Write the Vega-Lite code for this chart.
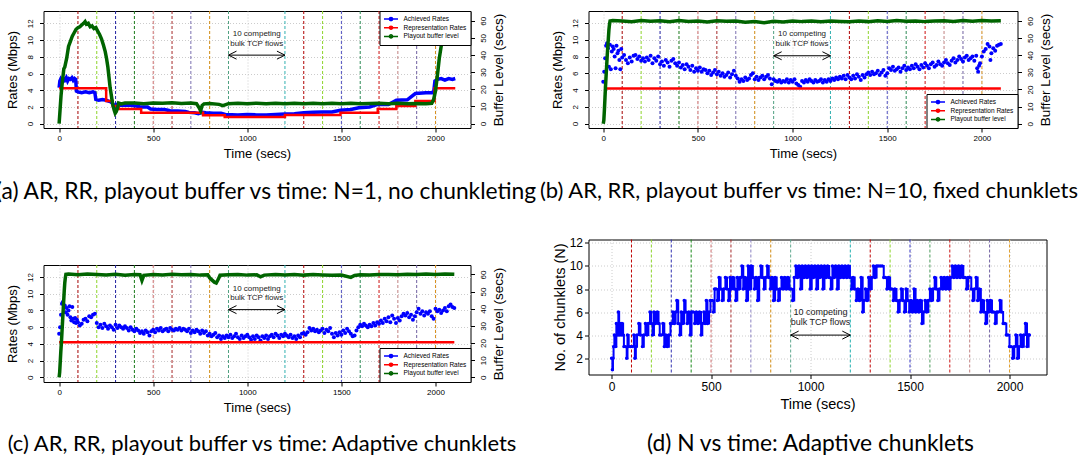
{
"$schema": "https://vega.github.io/schema/vega-lite/v6.json",
"padding": {"left": -6.5, "top": 10, "right": 0, "bottom": 0},
"background": "white",
"config": {
 "font": "Liberation Sans",
 "view": {"stroke": "black", "strokeWidth": 1},
 "axis": {"domain": false, "tickColor": "black", "tickSize": 4, "labelColor": "black", "titleColor": "black", "labelFont": "Liberation Sans", "titleFont": "Liberation Sans", "titleFontWeight": "normal", "gridColor": "#cccccc", "gridDash": [1, 2]},
 "title": {"font": "Lato", "fontSize": 22, "fontWeight": "normal", "color": "black", "orient": "bottom", "anchor": "middle", "frame": "group"},
 "legend": {"title": null, "offset": 0, "padding": 4, "strokeColor": "black", "fillColor": "white", "labelFontSize": 6.5, "labelFont": "Liberation Sans", "labelColor": "black", "symbolType": "M-2,0L2,0M-0.45,0A0.45,0.45,0,1,0,0.45,0A0.45,0.45,0,1,0,-0.45,0", "symbolSize": 49, "symbolStrokeWidth": 1.5, "rowPadding": 0.7, "clipHeight": 8, "labelOffset": 8, "symbolOffset": 3, "cornerRadius": 0}
},
"datasets": {
 "vlines": [{"t":100},{"t":200},{"t":300},{"t":400},{"t":500},{"t":600},{"t":700},{"t":800},{"t":900},{"t":1200},{"t":1300},{"t":1400},{"t":1500},{"t":1600},{"t":1700},{"t":1800},{"t":1900},{"t":2000}],
 "aAR": [{"t":0,"v":4.3},{"t":4,"v":5.1},{"t":8,"v":5.3},{"t":15,"v":5.0},{"t":22,"v":5.4},{"t":30,"v":5.2},{"t":38,"v":5.5},{"t":45,"v":5.1},{"t":52,"v":5.4},{"t":60,"v":5.3},{"t":68,"v":5.5},{"t":75,"v":5.2},{"t":82,"v":5.4},{"t":88,"v":5.3},{"t":92,"v":3.9},{"t":100,"v":3.8},{"t":120,"v":3.7},{"t":140,"v":3.8},{"t":160,"v":3.7},{"t":180,"v":3.8},{"t":190,"v":3.7},{"t":195,"v":2.9},{"t":210,"v":2.8},{"t":230,"v":2.9},{"t":250,"v":2.8},{"t":262,"v":2.7},{"t":275,"v":2.6},{"t":285,"v":2.4},{"t":292,"v":2.2},{"t":298,"v":2.1},{"t":305,"v":2.3},{"t":320,"v":2.2},{"t":350,"v":2.2},{"t":380,"v":2.2},{"t":410,"v":2.1},{"t":432,"v":2.0},{"t":470,"v":2.0},{"t":486,"v":1.75},{"t":520,"v":1.7},{"t":560,"v":1.7},{"t":590,"v":1.55},{"t":630,"v":1.5},{"t":670,"v":1.45},{"t":690,"v":1.35},{"t":720,"v":1.3},{"t":740,"v":1.2},{"t":760,"v":1.35},{"t":780,"v":1.3},{"t":820,"v":1.25},{"t":860,"v":1.25},{"t":883,"v":1.1},{"t":950,"v":1.05},{"t":1000,"v":1.1},{"t":1050,"v":1.05},{"t":1100,"v":1.05},{"t":1150,"v":1.1},{"t":1200,"v":1.15},{"t":1250,"v":1.2},{"t":1300,"v":1.3},{"t":1350,"v":1.35},{"t":1400,"v":1.4},{"t":1450,"v":1.4},{"t":1495,"v":1.6},{"t":1550,"v":1.7},{"t":1592,"v":1.9},{"t":1650,"v":2.0},{"t":1693,"v":2.3},{"t":1750,"v":2.3},{"t":1792,"v":2.8},{"t":1850,"v":2.85},{"t":1893,"v":3.6},{"t":1950,"v":3.7},{"t":1990,"v":3.7},{"t":1997,"v":5.1},{"t":2010,"v":5.3},{"t":2030,"v":5.4},{"t":2050,"v":5.2},{"t":2070,"v":5.4},{"t":2090,"v":5.3},{"t":2105,"v":5.4}],
 "aRR": [{"t":0,"v":4.25},{"t":250,"v":2.7},{"t":285,"v":2.1},{"t":316,"v":1.75},{"t":436,"v":1.3},{"t":765,"v":1.0},{"t":880,"v":0.8},{"t":1200,"v":1.05},{"t":1495,"v":1.3},{"t":1693,"v":1.75},{"t":1792,"v":2.1},{"t":1893,"v":2.7},{"t":1995,"v":4.25},{"t":2105,"v":4.25}],
 "aBL": [{"t":0,"v":0},{"t":5,"v":8},{"t":10,"v":16},{"t":15,"v":22},{"t":20,"v":27},{"t":25,"v":32},{"t":30,"v":33},{"t":40,"v":38},{"t":50,"v":45},{"t":60,"v":48},{"t":70,"v":51},{"t":80,"v":53},{"t":90,"v":55},{"t":100,"v":56},{"t":110,"v":56.5},{"t":120,"v":57.5},{"t":130,"v":58.5},{"t":138,"v":59.5},{"t":145,"v":58},{"t":155,"v":58.5},{"t":165,"v":56.5},{"t":175,"v":57},{"t":185,"v":55.5},{"t":195,"v":56},{"t":205,"v":54},{"t":215,"v":52},{"t":225,"v":49.5},{"t":235,"v":46},{"t":245,"v":42},{"t":252,"v":38},{"t":259,"v":33},{"t":265,"v":27},{"t":271,"v":21},{"t":278,"v":16},{"t":285,"v":11},{"t":292,"v":8},{"t":298,"v":6},{"t":304,"v":7},{"t":310,"v":9},{"t":316,"v":12},{"t":330,"v":11.5},{"t":350,"v":12},{"t":400,"v":12},{"t":450,"v":11.5},{"t":500,"v":12},{"t":550,"v":11.8},{"t":600,"v":12.1},{"t":650,"v":11.7},{"t":700,"v":12},{"t":730,"v":11.6},{"t":745,"v":9},{"t":752,"v":7.5},{"t":760,"v":10.5},{"t":770,"v":11.5},{"t":800,"v":11.7},{"t":850,"v":11.2},{"t":870,"v":10.5},{"t":900,"v":11.6},{"t":950,"v":11.8},{"t":1000,"v":11.5},{"t":1050,"v":11.9},{"t":1100,"v":11.6},{"t":1150,"v":11.8},{"t":1200,"v":11.5},{"t":1250,"v":11.9},{"t":1300,"v":11.6},{"t":1350,"v":11.8},{"t":1400,"v":11.5},{"t":1450,"v":11.9},{"t":1500,"v":11.6},{"t":1550,"v":11.8},{"t":1600,"v":11.5},{"t":1650,"v":11.7},{"t":1700,"v":11.9},{"t":1750,"v":11.6},{"t":1800,"v":11.8},{"t":1850,"v":11.5},{"t":1900,"v":11.7},{"t":1950,"v":11.6},{"t":1980,"v":11.8},{"t":1990,"v":14},{"t":2000,"v":19},{"t":2010,"v":28},{"t":2020,"v":38},{"t":2030,"v":45},{"t":2040,"v":52},{"t":2050,"v":60},{"t":2060,"v":68},{"t":2070,"v":75}],
 "bAR": [{"t":0,"v":5.0},{"t":5,"v":6.2},{"t":10,"v":7.8},{"t":15,"v":9.3},{"t":20,"v":9.6},{"t":25,"v":9.0},{"t":30,"v":6.8},{"t":35,"v":9.4},{"t":40,"v":6.5},{"t":45,"v":8.6},{"t":50,"v":9.2},{"t":55,"v":8.9},{"t":60,"v":8.0},{"t":65,"v":6.6},{"t":70,"v":9.3},{"t":75,"v":8.4},{"t":80,"v":8.7},{"t":85,"v":7.6},{"t":90,"v":6.5},{"t":95,"v":8.9},{"t":100,"v":7.9},{"t":110,"v":8.2},{"t":120,"v":7.6},{"t":130,"v":7.2},{"t":140,"v":7.9},{"t":150,"v":7.4},{"t":160,"v":8.1},{"t":170,"v":8.2},{"t":180,"v":7.7},{"t":190,"v":8.0},{"t":200,"v":7.5},{"t":210,"v":7.8},{"t":220,"v":7.4},{"t":230,"v":7.9},{"t":240,"v":7.6},{"t":250,"v":8.1},{"t":260,"v":7.2},{"t":270,"v":7.8},{"t":280,"v":7.5},{"t":290,"v":8.0},{"t":300,"v":7.1},{"t":310,"v":7.4},{"t":320,"v":6.9},{"t":330,"v":7.6},{"t":340,"v":7.3},{"t":350,"v":6.8},{"t":360,"v":7.5},{"t":370,"v":7.7},{"t":380,"v":7.2},{"t":390,"v":6.9},{"t":400,"v":7.3},{"t":410,"v":6.7},{"t":420,"v":7.0},{"t":430,"v":6.5},{"t":440,"v":7.1},{"t":450,"v":6.8},{"t":460,"v":6.4},{"t":470,"v":6.9},{"t":480,"v":6.2},{"t":490,"v":6.6},{"t":500,"v":6.3},{"t":510,"v":6.7},{"t":520,"v":6.2},{"t":530,"v":6.5},{"t":540,"v":6.4},{"t":550,"v":6.0},{"t":560,"v":6.3},{"t":570,"v":5.8},{"t":580,"v":6.1},{"t":590,"v":6.4},{"t":600,"v":5.9},{"t":610,"v":6.2},{"t":620,"v":5.7},{"t":630,"v":6.0},{"t":640,"v":5.6},{"t":650,"v":5.8},{"t":660,"v":6.1},{"t":670,"v":5.5},{"t":680,"v":5.9},{"t":690,"v":6.3},{"t":700,"v":5.7},{"t":710,"v":5.4},{"t":720,"v":5.0},{"t":730,"v":5.3},{"t":740,"v":5.1},{"t":750,"v":5.5},{"t":760,"v":5.2},{"t":770,"v":5.4},{"t":780,"v":5.8},{"t":790,"v":6.0},{"t":800,"v":5.3},{"t":810,"v":5.6},{"t":820,"v":5.2},{"t":830,"v":5.5},{"t":840,"v":5.7},{"t":850,"v":5.3},{"t":860,"v":5.6},{"t":870,"v":5.8},{"t":880,"v":5.4},{"t":890,"v":4.7},{"t":900,"v":5.3},{"t":910,"v":5.1},{"t":920,"v":5.0},{"t":930,"v":5.2},{"t":940,"v":4.9},{"t":950,"v":5.1},{"t":960,"v":5.0},{"t":970,"v":5.3},{"t":980,"v":4.9},{"t":990,"v":5.2},{"t":1000,"v":5.0},{"t":1010,"v":5.3},{"t":1020,"v":4.8},{"t":1030,"v":4.6},{"t":1040,"v":4.4},{"t":1050,"v":5.1},{"t":1060,"v":4.9},{"t":1070,"v":5.2},{"t":1080,"v":5.0},{"t":1090,"v":5.3},{"t":1100,"v":5.1},{"t":1110,"v":4.9},{"t":1120,"v":5.2},{"t":1130,"v":5.0},{"t":1140,"v":5.1},{"t":1150,"v":5.3},{"t":1160,"v":4.9},{"t":1170,"v":5.2},{"t":1180,"v":5.0},{"t":1190,"v":5.3},{"t":1200,"v":5.1},{"t":1210,"v":5.4},{"t":1220,"v":5.2},{"t":1230,"v":5.5},{"t":1240,"v":5.3},{"t":1250,"v":5.6},{"t":1260,"v":5.4},{"t":1270,"v":5.7},{"t":1280,"v":5.3},{"t":1290,"v":5.8},{"t":1300,"v":5.5},{"t":1310,"v":5.3},{"t":1320,"v":5.7},{"t":1330,"v":5.4},{"t":1340,"v":5.9},{"t":1350,"v":5.6},{"t":1360,"v":5.2},{"t":1370,"v":5.8},{"t":1380,"v":5.5},{"t":1390,"v":5.9},{"t":1400,"v":6.1},{"t":1410,"v":5.8},{"t":1420,"v":6.2},{"t":1430,"v":5.9},{"t":1440,"v":6.0},{"t":1450,"v":6.3},{"t":1460,"v":5.8},{"t":1470,"v":6.1},{"t":1480,"v":6.4},{"t":1490,"v":5.7},{"t":1500,"v":6.0},{"t":1510,"v":6.6},{"t":1520,"v":6.4},{"t":1530,"v":6.8},{"t":1540,"v":6.3},{"t":1550,"v":6.5},{"t":1560,"v":6.7},{"t":1570,"v":6.2},{"t":1580,"v":6.6},{"t":1590,"v":6.9},{"t":1600,"v":6.4},{"t":1610,"v":6.7},{"t":1620,"v":6.5},{"t":1630,"v":6.9},{"t":1640,"v":6.6},{"t":1650,"v":7.1},{"t":1660,"v":6.8},{"t":1670,"v":6.5},{"t":1680,"v":7.0},{"t":1690,"v":6.7},{"t":1700,"v":7.2},{"t":1710,"v":6.9},{"t":1720,"v":6.6},{"t":1730,"v":7.1},{"t":1740,"v":7.3},{"t":1750,"v":6.8},{"t":1760,"v":7.0},{"t":1770,"v":7.4},{"t":1780,"v":7.1},{"t":1790,"v":6.9},{"t":1800,"v":7.3},{"t":1810,"v":7.6},{"t":1820,"v":7.2},{"t":1830,"v":7.0},{"t":1840,"v":7.5},{"t":1850,"v":7.8},{"t":1860,"v":7.3},{"t":1870,"v":7.6},{"t":1880,"v":8.0},{"t":1890,"v":7.7},{"t":1900,"v":7.4},{"t":1910,"v":7.9},{"t":1920,"v":8.1},{"t":1930,"v":7.6},{"t":1940,"v":7.8},{"t":1950,"v":8.0},{"t":1960,"v":7.5},{"t":1970,"v":8.1},{"t":1975,"v":6.6},{"t":1980,"v":6.2},{"t":1985,"v":6.9},{"t":1990,"v":7.2},{"t":2000,"v":8.0},{"t":2010,"v":8.6},{"t":2020,"v":8.9},{"t":2030,"v":9.5},{"t":2040,"v":9.2},{"t":2045,"v":7.6},{"t":2050,"v":8.4},{"t":2060,"v":9.0},{"t":2070,"v":8.7},{"t":2080,"v":9.3},{"t":2090,"v":9.4},{"t":2100,"v":9.5}],
 "bRR": [{"t":5,"v":4.2},{"t":2100,"v":4.2}],
 "bBL": [{"t":0,"v":0},{"t":3,"v":2},{"t":6,"v":8},{"t":9,"v":15},{"t":12,"v":22},{"t":15,"v":28},{"t":18,"v":34},{"t":21,"v":40},{"t":24,"v":45},{"t":27,"v":50},{"t":30,"v":55},{"t":33,"v":58},{"t":36,"v":60},{"t":50,"v":60.3},{"t":100,"v":60.0},{"t":150,"v":59.6},{"t":200,"v":60.2},{"t":250,"v":59.8},{"t":300,"v":60.1},{"t":350,"v":59.5},{"t":400,"v":60.2},{"t":450,"v":59.7},{"t":500,"v":60.0},{"t":550,"v":59.4},{"t":600,"v":60.1},{"t":650,"v":59.8},{"t":700,"v":59.9},{"t":750,"v":59.3},{"t":800,"v":59.6},{"t":850,"v":58.9},{"t":900,"v":59.8},{"t":950,"v":59.4},{"t":1000,"v":60.0},{"t":1050,"v":59.6},{"t":1100,"v":59.9},{"t":1150,"v":59.5},{"t":1200,"v":60.0},{"t":1250,"v":59.7},{"t":1300,"v":59.5},{"t":1350,"v":59.9},{"t":1400,"v":59.6},{"t":1450,"v":60.1},{"t":1500,"v":59.7},{"t":1550,"v":60.2},{"t":1600,"v":59.8},{"t":1650,"v":60.0},{"t":1700,"v":59.6},{"t":1750,"v":59.9},{"t":1800,"v":60.1},{"t":1850,"v":59.7},{"t":1900,"v":60.3},{"t":1950,"v":59.8},{"t":2000,"v":60.2},{"t":2050,"v":59.9},{"t":2100,"v":60.1}],
 "cAR": [{"t":0,"v":5.2},{"t":5,"v":6.0},{"t":10,"v":7.5},{"t":15,"v":8.8},{"t":20,"v":9.0},{"t":25,"v":8.4},{"t":30,"v":8.6},{"t":35,"v":7.8},{"t":40,"v":8.3},{"t":45,"v":7.5},{"t":50,"v":8.0},{"t":55,"v":8.5},{"t":60,"v":7.2},{"t":65,"v":6.8},{"t":70,"v":8.4},{"t":75,"v":7.0},{"t":80,"v":6.6},{"t":85,"v":7.1},{"t":90,"v":6.5},{"t":95,"v":6.9},{"t":100,"v":6.6},{"t":110,"v":6.2},{"t":120,"v":6.4},{"t":130,"v":6.9},{"t":140,"v":7.0},{"t":150,"v":6.7},{"t":160,"v":7.3},{"t":170,"v":7.2},{"t":180,"v":7.5},{"t":190,"v":7.6},{"t":200,"v":6.5},{"t":210,"v":6.0},{"t":220,"v":6.3},{"t":230,"v":5.9},{"t":240,"v":6.4},{"t":250,"v":6.1},{"t":260,"v":5.8},{"t":270,"v":6.2},{"t":280,"v":6.0},{"t":290,"v":5.7},{"t":300,"v":6.3},{"t":310,"v":5.9},{"t":320,"v":6.2},{"t":330,"v":6.0},{"t":340,"v":5.8},{"t":350,"v":6.1},{"t":360,"v":5.9},{"t":370,"v":5.6},{"t":380,"v":6.0},{"t":390,"v":5.7},{"t":400,"v":5.5},{"t":410,"v":5.8},{"t":420,"v":5.6},{"t":430,"v":5.3},{"t":440,"v":5.5},{"t":450,"v":5.2},{"t":460,"v":5.6},{"t":470,"v":5.4},{"t":480,"v":5.0},{"t":490,"v":5.5},{"t":500,"v":5.7},{"t":510,"v":5.4},{"t":520,"v":5.8},{"t":530,"v":5.6},{"t":540,"v":5.9},{"t":550,"v":5.5},{"t":560,"v":5.7},{"t":570,"v":5.8},{"t":580,"v":5.5},{"t":590,"v":5.9},{"t":600,"v":5.7},{"t":610,"v":5.6},{"t":620,"v":5.8},{"t":630,"v":5.7},{"t":640,"v":5.9},{"t":650,"v":5.6},{"t":660,"v":5.8},{"t":670,"v":5.7},{"t":680,"v":5.5},{"t":690,"v":5.8},{"t":700,"v":5.3},{"t":710,"v":5.6},{"t":720,"v":5.4},{"t":730,"v":5.7},{"t":740,"v":5.5},{"t":750,"v":5.2},{"t":760,"v":5.6},{"t":770,"v":5.3},{"t":780,"v":5.5},{"t":790,"v":5.0},{"t":800,"v":5.2},{"t":810,"v":4.9},{"t":820,"v":5.1},{"t":830,"v":5.3},{"t":840,"v":4.8},{"t":850,"v":5.0},{"t":860,"v":4.6},{"t":870,"v":4.9},{"t":880,"v":4.7},{"t":890,"v":5.0},{"t":900,"v":4.8},{"t":910,"v":5.1},{"t":920,"v":4.7},{"t":930,"v":4.9},{"t":940,"v":5.2},{"t":950,"v":4.8},{"t":960,"v":4.6},{"t":970,"v":5.0},{"t":980,"v":4.7},{"t":990,"v":4.9},{"t":1000,"v":5.1},{"t":1010,"v":4.8},{"t":1020,"v":4.5},{"t":1030,"v":4.9},{"t":1040,"v":4.6},{"t":1050,"v":5.0},{"t":1060,"v":4.8},{"t":1070,"v":4.4},{"t":1080,"v":4.9},{"t":1090,"v":4.7},{"t":1100,"v":5.0},{"t":1110,"v":4.6},{"t":1120,"v":4.9},{"t":1130,"v":5.1},{"t":1140,"v":4.8},{"t":1150,"v":5.2},{"t":1160,"v":5.0},{"t":1170,"v":4.7},{"t":1180,"v":5.1},{"t":1190,"v":4.9},{"t":1200,"v":5.2},{"t":1210,"v":5.0},{"t":1220,"v":4.8},{"t":1230,"v":5.1},{"t":1240,"v":4.7},{"t":1250,"v":4.9},{"t":1260,"v":4.6},{"t":1270,"v":5.0},{"t":1280,"v":4.8},{"t":1290,"v":5.2},{"t":1300,"v":5.3},{"t":1310,"v":5.1},{"t":1320,"v":5.4},{"t":1330,"v":5.9},{"t":1340,"v":5.6},{"t":1350,"v":5.8},{"t":1360,"v":5.5},{"t":1370,"v":5.7},{"t":1380,"v":5.4},{"t":1390,"v":5.6},{"t":1400,"v":5.8},{"t":1410,"v":5.3},{"t":1420,"v":5.7},{"t":1430,"v":5.5},{"t":1440,"v":5.9},{"t":1450,"v":5.2},{"t":1460,"v":4.8},{"t":1470,"v":5.3},{"t":1480,"v":5.0},{"t":1490,"v":5.4},{"t":1500,"v":5.1},{"t":1510,"v":5.6},{"t":1520,"v":5.3},{"t":1530,"v":5.8},{"t":1540,"v":5.5},{"t":1550,"v":5.2},{"t":1560,"v":4.9},{"t":1570,"v":5.0},{"t":1580,"v":5.6},{"t":1590,"v":6.0},{"t":1600,"v":6.3},{"t":1610,"v":6.1},{"t":1620,"v":6.4},{"t":1630,"v":6.2},{"t":1640,"v":6.0},{"t":1650,"v":6.3},{"t":1660,"v":6.1},{"t":1670,"v":6.5},{"t":1680,"v":6.2},{"t":1690,"v":6.6},{"t":1700,"v":6.4},{"t":1710,"v":6.8},{"t":1720,"v":6.5},{"t":1730,"v":7.0},{"t":1740,"v":6.7},{"t":1750,"v":7.2},{"t":1760,"v":6.6},{"t":1770,"v":7.4},{"t":1780,"v":7.0},{"t":1790,"v":6.5},{"t":1800,"v":7.1},{"t":1810,"v":6.8},{"t":1820,"v":7.3},{"t":1830,"v":7.6},{"t":1840,"v":7.4},{"t":1850,"v":7.7},{"t":1860,"v":7.2},{"t":1870,"v":7.5},{"t":1880,"v":6.9},{"t":1890,"v":7.3},{"t":1900,"v":7.8},{"t":1910,"v":8.2},{"t":1920,"v":7.6},{"t":1930,"v":7.9},{"t":1940,"v":7.4},{"t":1950,"v":7.8},{"t":1960,"v":7.6},{"t":1970,"v":7.9},{"t":1980,"v":7.3},{"t":1990,"v":7.0},{"t":2000,"v":8.2},{"t":2010,"v":7.9},{"t":2020,"v":8.1},{"t":2030,"v":7.7},{"t":2040,"v":8.0},{"t":2050,"v":8.3},{"t":2060,"v":7.9},{"t":2070,"v":8.5},{"t":2080,"v":8.7},{"t":2090,"v":8.4},{"t":2100,"v":8.3}],
 "cRR": [{"t":0,"v":4.2},{"t":2100,"v":4.2}],
 "cBL": [{"t":0,"v":0},{"t":3,"v":3},{"t":6,"v":9},{"t":9,"v":15},{"t":12,"v":20},{"t":15,"v":26},{"t":18,"v":32},{"t":21,"v":38},{"t":24,"v":44},{"t":27,"v":50},{"t":30,"v":55},{"t":33,"v":58},{"t":36,"v":60},{"t":50,"v":60.2},{"t":100,"v":59.8},{"t":150,"v":60.3},{"t":200,"v":60.0},{"t":250,"v":59.7},{"t":300,"v":60.1},{"t":350,"v":59.6},{"t":400,"v":60.0},{"t":430,"v":59.8},{"t":440,"v":56.5},{"t":450,"v":59.5},{"t":500,"v":60.0},{"t":550,"v":59.7},{"t":600,"v":60.1},{"t":650,"v":59.8},{"t":700,"v":60.0},{"t":750,"v":59.6},{"t":790,"v":59.8},{"t":800,"v":58},{"t":810,"v":57},{"t":825,"v":55.5},{"t":835,"v":55},{"t":845,"v":57},{"t":855,"v":59.5},{"t":900,"v":59.8},{"t":950,"v":60.0},{"t":1000,"v":59.6},{"t":1050,"v":59.8},{"t":1070,"v":58.6},{"t":1090,"v":59.6},{"t":1150,"v":59.9},{"t":1200,"v":59.7},{"t":1250,"v":60.0},{"t":1300,"v":59.6},{"t":1350,"v":59.9},{"t":1400,"v":59.7},{"t":1450,"v":59.5},{"t":1500,"v":59.6},{"t":1550,"v":58.3},{"t":1570,"v":59.4},{"t":1600,"v":59.8},{"t":1650,"v":59.6},{"t":1700,"v":59.9},{"t":1750,"v":60.0},{"t":1800,"v":59.8},{"t":1850,"v":60.1},{"t":1900,"v":59.9},{"t":1950,"v":60.2},{"t":2000,"v":60.0},{"t":2050,"v":60.3},{"t":2100,"v":60.1}],
 "dN": [{"t":0,"v":2},{"t":4,"v":1},{"t":7,"v":2},{"t":10,"v":3},{"t":14,"v":4},{"t":20,"v":3},{"t":24,"v":5},{"t":30,"v":4},{"t":34,"v":6},{"t":38,"v":4},{"t":42,"v":5},{"t":48,"v":4},{"t":52,"v":5},{"t":58,"v":4},{"t":62,"v":3},{"t":70,"v":3},{"t":76,"v":2},{"t":80,"v":4},{"t":86,"v":3},{"t":95,"v":3},{"t":104,"v":3},{"t":112,"v":4},{"t":117,"v":2},{"t":122,"v":3},{"t":128,"v":4},{"t":137,"v":5},{"t":145,"v":4},{"t":155,"v":3},{"t":162,"v":4},{"t":170,"v":5},{"t":178,"v":4},{"t":185,"v":5},{"t":193,"v":6},{"t":200,"v":5},{"t":206,"v":4},{"t":213,"v":6},{"t":220,"v":5},{"t":230,"v":6},{"t":236,"v":5},{"t":242,"v":4},{"t":250,"v":4},{"t":258,"v":5},{"t":265,"v":3},{"t":272,"v":4},{"t":280,"v":3},{"t":288,"v":4},{"t":296,"v":5},{"t":302,"v":5},{"t":308,"v":6},{"t":315,"v":5},{"t":322,"v":6},{"t":328,"v":7},{"t":335,"v":5},{"t":343,"v":4},{"t":350,"v":6},{"t":358,"v":5},{"t":365,"v":7},{"t":372,"v":6},{"t":380,"v":5},{"t":388,"v":6},{"t":395,"v":4},{"t":402,"v":6},{"t":410,"v":6},{"t":418,"v":5},{"t":426,"v":6},{"t":434,"v":5},{"t":442,"v":6},{"t":450,"v":4},{"t":456,"v":5},{"t":464,"v":6},{"t":470,"v":5},{"t":476,"v":7},{"t":482,"v":5},{"t":490,"v":6},{"t":497,"v":7},{"t":505,"v":7},{"t":512,"v":6},{"t":518,"v":8},{"t":525,"v":8},{"t":532,"v":7},{"t":540,"v":9},{"t":548,"v":8},{"t":556,"v":7},{"t":564,"v":8},{"t":572,"v":9},{"t":580,"v":8},{"t":588,"v":7},{"t":595,"v":9},{"t":602,"v":8},{"t":610,"v":9},{"t":618,"v":8},{"t":624,"v":7},{"t":632,"v":9},{"t":640,"v":8},{"t":648,"v":9},{"t":655,"v":10},{"t":662,"v":8},{"t":670,"v":9},{"t":678,"v":7},{"t":686,"v":10},{"t":694,"v":8},{"t":702,"v":10},{"t":710,"v":9},{"t":718,"v":8},{"t":726,"v":9},{"t":734,"v":7},{"t":742,"v":9},{"t":750,"v":10},{"t":758,"v":9},{"t":766,"v":8},{"t":774,"v":9},{"t":782,"v":10},{"t":790,"v":9},{"t":798,"v":8},{"t":806,"v":9},{"t":814,"v":7},{"t":822,"v":9},{"t":830,"v":8},{"t":838,"v":7},{"t":846,"v":8},{"t":854,"v":9},{"t":862,"v":8},{"t":870,"v":9},{"t":878,"v":8},{"t":886,"v":9},{"t":894,"v":8},{"t":902,"v":8},{"t":910,"v":7},{"t":918,"v":9},{"t":926,"v":10},{"t":934,"v":9},{"t":942,"v":10},{"t":950,"v":8},{"t":958,"v":10},{"t":966,"v":9},{"t":974,"v":10},{"t":982,"v":9},{"t":990,"v":10},{"t":998,"v":8},{"t":1006,"v":10},{"t":1014,"v":9},{"t":1022,"v":10},{"t":1030,"v":8},{"t":1038,"v":10},{"t":1046,"v":9},{"t":1054,"v":10},{"t":1062,"v":8},{"t":1070,"v":10},{"t":1078,"v":9},{"t":1086,"v":10},{"t":1094,"v":9},{"t":1102,"v":8},{"t":1110,"v":10},{"t":1118,"v":9},{"t":1126,"v":10},{"t":1134,"v":8},{"t":1142,"v":10},{"t":1150,"v":9},{"t":1158,"v":10},{"t":1166,"v":9},{"t":1174,"v":10},{"t":1182,"v":9},{"t":1190,"v":10},{"t":1198,"v":9},{"t":1206,"v":8},{"t":1214,"v":9},{"t":1222,"v":8},{"t":1230,"v":7},{"t":1238,"v":8},{"t":1246,"v":7},{"t":1254,"v":9},{"t":1262,"v":6},{"t":1268,"v":7},{"t":1276,"v":8},{"t":1284,"v":7},{"t":1292,"v":9},{"t":1300,"v":8},{"t":1308,"v":9},{"t":1316,"v":10},{"t":1324,"v":9},{"t":1332,"v":10},{"t":1340,"v":10},{"t":1350,"v":10},{"t":1360,"v":10},{"t":1368,"v":9},{"t":1376,"v":9},{"t":1384,"v":8},{"t":1392,"v":9},{"t":1400,"v":8},{"t":1408,"v":8},{"t":1416,"v":7},{"t":1424,"v":8},{"t":1432,"v":7},{"t":1440,"v":6},{"t":1448,"v":7},{"t":1456,"v":8},{"t":1464,"v":7},{"t":1472,"v":6},{"t":1480,"v":8},{"t":1488,"v":7},{"t":1496,"v":6},{"t":1504,"v":7},{"t":1512,"v":6},{"t":1520,"v":8},{"t":1528,"v":6},{"t":1536,"v":7},{"t":1544,"v":6},{"t":1552,"v":7},{"t":1560,"v":5},{"t":1568,"v":6},{"t":1576,"v":7},{"t":1584,"v":6},{"t":1592,"v":7},{"t":1600,"v":8},{"t":1608,"v":7},{"t":1616,"v":8},{"t":1624,"v":9},{"t":1632,"v":8},{"t":1640,"v":7},{"t":1648,"v":8},{"t":1656,"v":9},{"t":1664,"v":8},{"t":1672,"v":9},{"t":1680,"v":8},{"t":1688,"v":9},{"t":1696,"v":8},{"t":1704,"v":9},{"t":1712,"v":10},{"t":1720,"v":9},{"t":1728,"v":10},{"t":1736,"v":9},{"t":1744,"v":10},{"t":1752,"v":9},{"t":1760,"v":10},{"t":1768,"v":9},{"t":1776,"v":9},{"t":1784,"v":8},{"t":1792,"v":9},{"t":1800,"v":9},{"t":1808,"v":8},{"t":1816,"v":7},{"t":1824,"v":8},{"t":1832,"v":9},{"t":1840,"v":7},{"t":1848,"v":8},{"t":1856,"v":6},{"t":1864,"v":7},{"t":1872,"v":6},{"t":1880,"v":5},{"t":1888,"v":7},{"t":1896,"v":6},{"t":1904,"v":7},{"t":1912,"v":6},{"t":1920,"v":6},{"t":1928,"v":5},{"t":1936,"v":6},{"t":1944,"v":6},{"t":1952,"v":7},{"t":1960,"v":6},{"t":1968,"v":5},{"t":1976,"v":5},{"t":1984,"v":4},{"t":1992,"v":4},{"t":2000,"v":3},{"t":2008,"v":3},{"t":2016,"v":2},{"t":2024,"v":3},{"t":2032,"v":4},{"t":2040,"v":2},{"t":2048,"v":3},{"t":2056,"v":4},{"t":2064,"v":3},{"t":2072,"v":4},{"t":2080,"v":5},{"t":2088,"v":3},{"t":2096,"v":4},{"t":2100,"v":4}]
},
"hconcat": [
 {"vconcat": [
  {"width": 427, "height": 117,
   "title": {"text": "(a) AR, RR, playout buffer vs time: N=1, no chunkleting", "fontSize": 22.8, "dx": 9, "offset": 21},
   "encoding": {"x": {"field": "t", "type": "quantitative", "scale": {"domain": [-83, 2186], "nice": false, "zero": false}, "axis": {"values": [0,500,1000,1500,2000], "format": "d", "title": "Time (secs)", "labelFontSize": 8, "titleFontSize": 13, "grid": true, "labelPadding": 2, "titlePadding": 5}}},
   "layer": [
    {"data": {"name": "vlines"}, "mark": {"type": "rule", "strokeDash": [3, 2], "strokeWidth": 1}, "encoding": {"stroke": {"field": "t", "type": "ordinal", "scale": {"domain": [100,200,300,400,500,600,700,800,900,1200,1300,1400,1500,1600,1700,1800,1900,2000], "range": ["#a50000","#8ed42b","#2020a0","#1a7a1a","#cd6c6c","#a52a2a","#7b6fb0","#d08a10","#4fa080","#30b0b0","#b00000","#8ed42b","#5050c0","#2e8b57","#cc1010","#c08080","#7060a0","#d89020"]}, "legend": null}}},
    {"encoding": {"y": {"field": "v", "type": "quantitative", "scale": {"domain": [-0.52, 13.48], "nice": false, "zero": false}, "axis": {"values": [0,2,4,6,8,10,12], "title": "Rates (Mbps)", "labelAngle": -90, "labelFontSize": 8, "titleFontSize": 13, "grid": true, "labelPadding": 5, "titlePadding": 7}}},
     "layer": [
      {"data": {"name": "aAR"}, "mark": {"type": "line", "color": "#0000ff", "strokeWidth": 3.5}},
      {"data": {"name": "aRR"}, "mark": {"type": "line", "interpolate": "step-after", "strokeWidth": 2.5}, "encoding": {"color": {"datum": "Representation Rates", "scale": {"domain": ["Achieved Rates", "Representation Rates", "Playout buffer level"], "range": ["#0000ff", "#ff0000", "#006400"]}, "legend": {"orient": "top-right", "labelFontSize": 6.5, "labelFont": "Liberation Sans"}}}},
      {"data": {"values": [{"t": 1050, "v": 10.7, "s": "10 competing"}, {"t": 1050, "v": 9.5, "s": "bulk TCP flows"}]}, "mark": {"type": "text", "fontSize": 8, "color": "#222222"}, "encoding": {"text": {"field": "s"}}},
      {"data": {"values": [{"t": 900, "t2": 1200, "v": 8.2}]}, "mark": {"type": "rule", "color": "black", "strokeWidth": 1}, "encoding": {"x2": {"field": "t2"}}},
      {"data": {"values": [{"t": 900, "v": 8.2}]}, "mark": {"type": "point", "shape": "M2,-1L0,0L2,1", "size": 64, "color": "black", "filled": false, "strokeWidth": 1, "opacity": 1}},
      {"data": {"values": [{"t": 1200, "v": 8.2}]}, "mark": {"type": "point", "shape": "M-2,-1L0,0L-2,1", "size": 64, "color": "black", "filled": false, "strokeWidth": 1, "opacity": 1}}
     ]},
    {"data": {"name": "aBL"}, "mark": {"type": "line", "color": "#006400", "strokeWidth": 3.5, "clip": true}, "encoding": {"y": {"field": "v", "type": "quantitative", "scale": {"domain": [-2.6, 65.7], "nice": false, "zero": false}, "axis": {"orient": "right", "values": [0,10,20,30,40,50,60], "title": "Buffer Level (secs)", "labelAngle": -90, "labelFontSize": 8, "titleFontSize": 13.5, "grid": false, "labelPadding": 5, "titlePadding": 4, "titleAngle": 270, "titleBaseline": "top"}}}}
   ],
   "resolve": {"scale": {"y": "independent"}}
  },
  {"width": 427, "height": 117,
   "title": {"text": "(c) AR, RR, playout buffer vs time: Adaptive chunklets", "dx": 5, "offset": 20},
   "encoding": {"x": {"field": "t", "type": "quantitative", "scale": {"domain": [-83, 2186], "nice": false, "zero": false}, "axis": {"values": [0,500,1000,1500,2000], "format": "d", "title": "Time (secs)", "labelFontSize": 8, "titleFontSize": 13, "grid": true, "labelPadding": 2, "titlePadding": 5}}},
   "layer": [
    {"data": {"name": "vlines"}, "mark": {"type": "rule", "strokeDash": [3, 2], "strokeWidth": 1}, "encoding": {"stroke": {"field": "t", "type": "ordinal", "scale": {"domain": [100,200,300,400,500,600,700,800,900,1200,1300,1400,1500,1600,1700,1800,1900,2000], "range": ["#a50000","#8ed42b","#2020a0","#1a7a1a","#cd6c6c","#a52a2a","#7b6fb0","#d08a10","#4fa080","#30b0b0","#b00000","#8ed42b","#5050c0","#2e8b57","#cc1010","#c08080","#7060a0","#d89020"]}, "legend": null}}},
    {"encoding": {"y": {"field": "v", "type": "quantitative", "scale": {"domain": [-0.56, 13.44], "nice": false, "zero": false}, "axis": {"values": [0,2,4,6,8,10,12], "title": "Rates (Mbps)", "labelAngle": -90, "labelFontSize": 8, "titleFontSize": 13, "grid": true, "labelPadding": 5, "titlePadding": 7}}},
     "layer": [
      {"data": {"name": "cAR"}, "mark": {"type": "point", "filled": true, "size": 16, "color": "#0000ff", "opacity": 1}},
      {"data": {"name": "cRR"}, "mark": {"type": "line", "strokeWidth": 2.5}, "encoding": {"color": {"datum": "Representation Rates", "scale": {"domain": ["Achieved Rates", "Representation Rates", "Playout buffer level"], "range": ["#0000ff", "#ff0000", "#006400"]}, "legend": {"orient": "bottom-right", "labelFontSize": 6.5, "labelFont": "Liberation Sans"}}}},
      {"data": {"values": [{"t": 1050, "v": 10.6, "s": "10 competing"}, {"t": 1050, "v": 9.45, "s": "bulk TCP flows"}]}, "mark": {"type": "text", "fontSize": 8, "color": "#222222"}, "encoding": {"text": {"field": "s"}}},
      {"data": {"values": [{"t": 900, "t2": 1200, "v": 8.1}]}, "mark": {"type": "rule", "color": "black", "strokeWidth": 1}, "encoding": {"x2": {"field": "t2"}}},
      {"data": {"values": [{"t": 900, "v": 8.1}]}, "mark": {"type": "point", "shape": "M2,-1L0,0L2,1", "size": 64, "color": "black", "filled": false, "strokeWidth": 1, "opacity": 1}},
      {"data": {"values": [{"t": 1200, "v": 8.1}]}, "mark": {"type": "point", "shape": "M-2,-1L0,0L-2,1", "size": 64, "color": "black", "filled": false, "strokeWidth": 1, "opacity": 1}}
     ]},
    {"data": {"name": "cBL"}, "mark": {"type": "line", "color": "#006400", "strokeWidth": 3.5, "clip": true}, "encoding": {"y": {"field": "v", "type": "quantitative", "scale": {"domain": [-2.7, 65.5], "nice": false, "zero": false}, "axis": {"orient": "right", "values": [0,10,20,30,40,50,60], "title": "Buffer Level (secs)", "labelAngle": -90, "labelFontSize": 8, "titleFontSize": 13.5, "grid": false, "labelPadding": 5, "titlePadding": 4, "titleAngle": 270, "titleBaseline": "top"}}}}
   ],
   "resolve": {"scale": {"y": "independent"}}
  }
 ], "spacing": 137, "bounds": "flush", "resolve": {"scale": {"color": "independent", "stroke": "independent"}}},
 {"vconcat": [
  {"width": 429, "height": 117,
   "title": {"text": "(b) AR, RR, playout buffer vs time: N=10, fixed chunklets", "dx": 6, "offset": 21},
   "encoding": {"x": {"field": "t", "type": "quantitative", "scale": {"domain": [-78, 2188], "nice": false, "zero": false}, "axis": {"values": [0,500,1000,1500,2000], "format": "d", "title": "Time (secs)", "labelFontSize": 8, "titleFontSize": 13, "grid": true, "labelPadding": 2, "titlePadding": 5}}},
   "layer": [
    {"data": {"name": "vlines"}, "mark": {"type": "rule", "strokeDash": [3, 2], "strokeWidth": 1}, "encoding": {"stroke": {"field": "t", "type": "ordinal", "scale": {"domain": [100,200,300,400,500,600,700,800,900,1200,1300,1400,1500,1600,1700,1800,1900,2000], "range": ["#a50000","#8ed42b","#2020a0","#1a7a1a","#cd6c6c","#a52a2a","#7b6fb0","#d08a10","#4fa080","#30b0b0","#b00000","#8ed42b","#5050c0","#2e8b57","#cc1010","#c08080","#7060a0","#d89020"]}, "legend": null}}},
    {"encoding": {"y": {"field": "v", "type": "quantitative", "scale": {"domain": [-0.52, 13.44], "nice": false, "zero": false}, "axis": {"values": [0,2,4,6,8,10,12], "title": "Rates (Mbps)", "labelAngle": -90, "labelFontSize": 8, "titleFontSize": 13, "grid": true, "labelPadding": 5, "titlePadding": 7}}},
     "layer": [
      {"data": {"name": "bAR"}, "mark": {"type": "point", "filled": true, "size": 16, "color": "#0000ff", "opacity": 1}},
      {"data": {"name": "bRR"}, "mark": {"type": "line", "strokeWidth": 2.5}, "encoding": {"color": {"datum": "Representation Rates", "scale": {"domain": ["Achieved Rates", "Representation Rates", "Playout buffer level"], "range": ["#0000ff", "#ff0000", "#006400"]}, "legend": {"orient": "bottom-right", "labelFontSize": 6.5, "labelFont": "Liberation Sans"}}}},
      {"data": {"values": [{"t": 1050, "v": 10.65, "s": "10 competing"}, {"t": 1050, "v": 9.45, "s": "bulk TCP flows"}]}, "mark": {"type": "text", "fontSize": 8, "color": "#222222"}, "encoding": {"text": {"field": "s"}}},
      {"data": {"values": [{"t": 900, "t2": 1200, "v": 8.1}]}, "mark": {"type": "rule", "color": "black", "strokeWidth": 1}, "encoding": {"x2": {"field": "t2"}}},
      {"data": {"values": [{"t": 900, "v": 8.1}]}, "mark": {"type": "point", "shape": "M2,-1L0,0L2,1", "size": 64, "color": "black", "filled": false, "strokeWidth": 1, "opacity": 1}},
      {"data": {"values": [{"t": 1200, "v": 8.1}]}, "mark": {"type": "point", "shape": "M-2,-1L0,0L-2,1", "size": 64, "color": "black", "filled": false, "strokeWidth": 1, "opacity": 1}}
     ]},
    {"data": {"name": "bBL"}, "mark": {"type": "line", "color": "#006400", "strokeWidth": 3.5, "clip": true}, "encoding": {"y": {"field": "v", "type": "quantitative", "scale": {"domain": [-2.5, 65.8], "nice": false, "zero": false}, "axis": {"orient": "right", "values": [0,10,20,30,40,50,60], "title": "Buffer Level (secs)", "labelAngle": -90, "labelFontSize": 8, "titleFontSize": 13.5, "grid": false, "labelPadding": 5, "titlePadding": 4, "titleAngle": 270, "titleBaseline": "top"}}}}
   ],
   "resolve": {"scale": {"y": "independent"}}
  },
  {"width": 458, "height": 135,
   "title": {"text": "(d) N vs time: Adaptive chunklets", "fontSize": 22.8, "dx": -7, "offset": 22},
   "encoding": {"x": {"field": "t", "type": "quantitative", "scale": {"domain": [-116, 2186], "nice": false, "zero": false}, "axis": {"values": [0,500,1000,1500,2000], "format": "d", "title": "Time (secs)", "labelFontSize": 12, "titleFontSize": 14.5, "grid": true, "labelPadding": 3, "titlePadding": 5}}},
   "layer": [
    {"data": {"name": "vlines"}, "mark": {"type": "rule", "strokeDash": [3, 2], "strokeWidth": 1}, "encoding": {"stroke": {"field": "t", "type": "ordinal", "scale": {"domain": [100,200,300,400,500,600,700,800,900,1200,1300,1400,1500,1600,1700,1800,1900,2000], "range": ["#c00000","#8ed42b","#3030b0","#1a8a1a","#cd6c6c","#a52a2a","#8a80c0","#d08a10","#60a890","#20b0b0","#c00000","#8ed42b","#3030c0","#4a9a5a","#cc1010","#c08080","#7060a0","#e0a030"]}, "legend": null}}},
    {"encoding": {"y": {"field": "v", "type": "quantitative", "scale": {"domain": [0.58, 12.3], "nice": false, "zero": false}, "axis": {"values": [2,4,6,8,10,12], "title": "No. of chunklets (N)", "labelFontSize": 12, "titleFontSize": 14.5, "grid": true, "labelPadding": 2, "titlePadding": 2}}},
     "layer": [
      {"data": {"name": "dN"}, "mark": {"type": "line", "interpolate": "step-after", "color": "#0000ff", "strokeWidth": 2}},
      {"data": {"name": "dN"}, "mark": {"type": "point", "filled": true, "size": 12, "color": "#0000ff", "opacity": 1}},
      {"data": {"values": [{"t": 1050, "v": 6.0, "s": "10 competing"}, {"t": 1050, "v": 5.1, "s": "bulk TCP flows"}]}, "mark": {"type": "text", "fontSize": 9, "color": "#222222"}, "encoding": {"text": {"field": "s"}}},
      {"data": {"values": [{"t": 900, "t2": 1200, "v": 4.0}]}, "mark": {"type": "rule", "color": "black", "strokeWidth": 1}, "encoding": {"x2": {"field": "t2"}}},
      {"data": {"values": [{"t": 900, "v": 4.0}]}, "mark": {"type": "point", "shape": "M2,-1L0,0L2,1", "size": 64, "color": "black", "filled": false, "strokeWidth": 1, "opacity": 1}},
      {"data": {"values": [{"t": 1200, "v": 4.0}]}, "mark": {"type": "point", "shape": "M-2,-1L0,0L-2,1", "size": 64, "color": "black", "filled": false, "strokeWidth": 1, "opacity": 1}}
     ]}
   ]
  }
 ], "spacing": 111.5, "bounds": "flush", "resolve": {"scale": {"color": "independent", "stroke": "independent"}}}
],
"spacing": 0,
"bounds": "full",
"resolve": {"scale": {"color": "independent", "stroke": "independent"}}
}
